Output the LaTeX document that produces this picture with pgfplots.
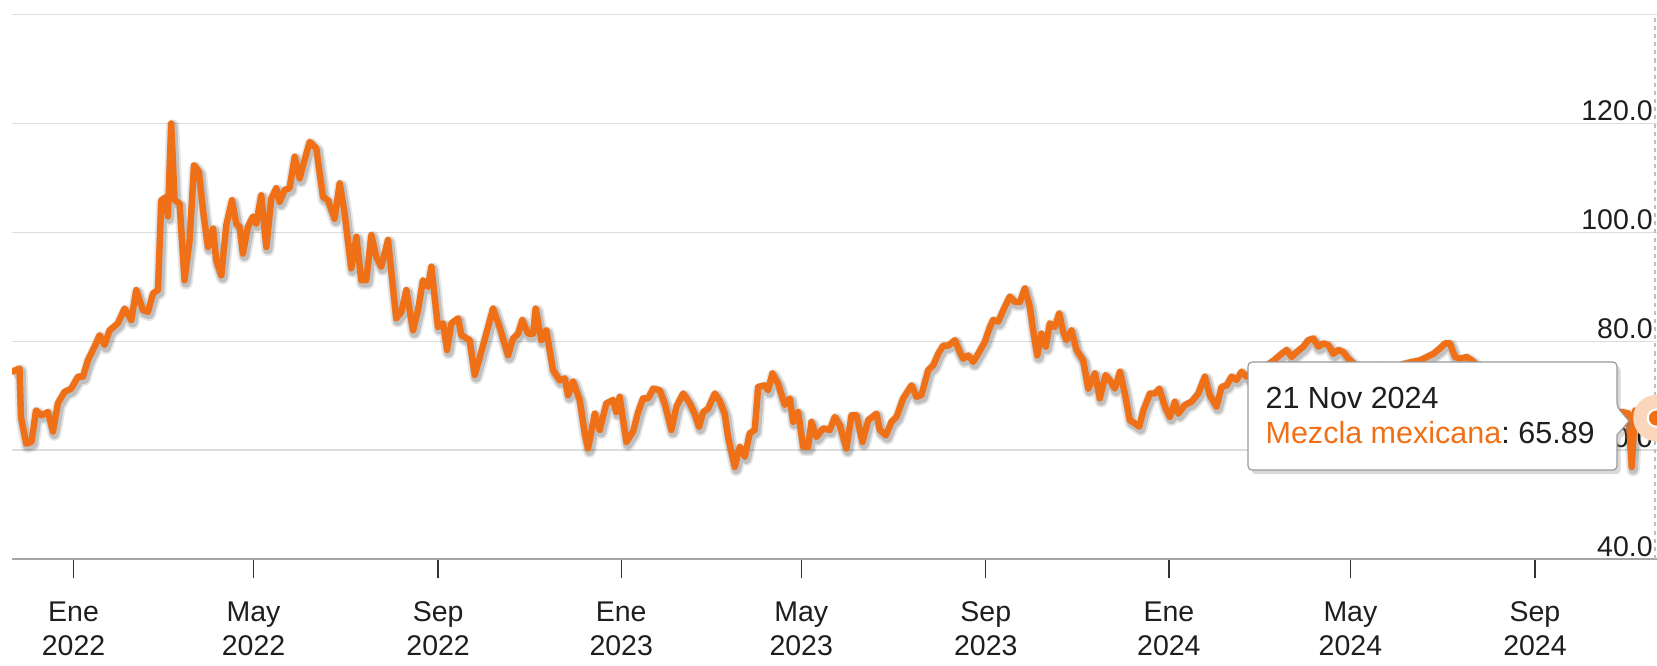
\documentclass[border=0pt]{standalone}
\usepackage{fontspec}
\setmainfont{Liberation Sans}
\usepackage{pgfplots}
\pgfplotsset{compat=1.18}
\usepackage{pgfplotstable}
\usetikzlibrary{shadows}

\definecolor{mezcla}{RGB}{240,112,24}
\definecolor{halo}{RGB}{249,214,188}
\definecolor{gridgray}{RGB}{221,221,221}
\definecolor{txt}{RGB}{30,30,30}

% x = days since 1 Jan 2022, v = USD per barrel
\pgfplotstableread{
d v
-41 74.4
-36 75.0
-35 66.1
-31.5 61.2
-28 61.5
-25 67.3
-21.5 66.4
-17 67.0
-13.7 63.4
-10.4 68.6
-6 70.7
-1.5 71.3
3 73.5
6.3 73.5
9.6 76.5
14 79.0
17.4 81.1
20.7 79.3
24 82.0
29.6 83.3
34 86.0
38.5 83.9
41.8 89.4
46.3 85.7
49.6 85.4
53 88.8
56.3 89.4
58.5 105.9
61.8 106.5
62.9 102.9
65.1 120.0
67.4 105.9
70.7 105.3
74 91.2
77.4 98.6
80.3 112.3
83.6 111.1
86.3 104.1
89.6 97.3
93 100.7
95.1 94.9
98.5 92.1
101.8 101.3
105.6 105.9
108.5 101.6
110.7 101.0
112.9 96.1
116.2 101.0
119.6 102.9
121.8 101.6
125.1 106.8
128.5 97.3
131.8 106.2
135.1 108.1
137.4 105.6
140.7 107.8
144 108.1
147.4 113.9
150.7 109.9
154 113.3
157.4 116.6
161.8 115.4
166.3 106.5
169.6 105.9
174 102.5
177.4 109.0
180.7 103.5
185.1 93.4
188.5 99.2
191.8 91.2
195.1 91.2
198.5 99.5
201.8 95.5
205.1 93.7
209.6 98.6
215.1 84.2
218.5 85.4
221.8 89.4
226.3 82.0
229.6 85.7
232.9 91.2
236.3 90.0
238.5 93.7
242.9 82.6
246.3 83.3
249 78.4
251.8 83.3
256.3 84.2
258.5 81.1
264 80.2
267.4 73.8
270.7 77.0
275.1 81.4
279.6 86.0
284 82.6
289.6 77.4
292.9 80.5
296.3 81.4
299.1 83.9
302.9 81.4
306.3 81.4
308 86.0
311.8 80.2
315.1 82.0
319.6 74.7
324 72.8
327.4 73.2
329.6 70.1
332.9 72.6
337.4 69.2
340.7 63.1
342.9 60.3
347.4 66.7
350.7 63.7
355.1 68.6
359.6 69.2
361.8 67.0
364 69.8
368.5 61.5
372.9 63.4
376.3 67.0
379.6 69.5
383 69.5
386.3 71.3
390.7 71.0
394 68.6
398.5 63.7
401.8 68.0
406.3 70.4
410.7 68.6
414 66.7
416.9 64.3
419.6 67.0
422.9 67.6
427.4 70.4
430.7 69.0
434 66.7
436.3 62.4
440.7 56.9
444 60.6
447.4 58.8
450.7 63.1
454 63.7
456.3 71.6
460.7 71.9
462.9 71.0
465.8 74.1
469.6 72.2
474 68.3
477.4 69.5
479.6 65.2
482.9 67.0
486.3 60.6
489.6 60.6
491.8 65.2
495.1 62.4
499.6 64.0
504 63.7
507.4 66.1
510.7 64.6
515.1 60.3
518.5 66.4
521.8 66.4
525.8 61.5
529.6 65.5
535.1 66.7
537.4 63.7
541.4 62.7
545.1 65.2
548.5 66.1
552.9 69.5
558.5 71.9
561.8 69.8
565.1 70.1
569.6 74.7
573 75.6
576.3 77.7
579.6 79.2
583 79.2
587.4 80.2
590.7 78.0
592.9 76.8
596.3 77.4
599.6 76.2
602.9 77.7
607.4 79.9
610.7 82.6
612.9 83.9
616.3 83.6
619.6 85.7
624 88.2
627.4 87.2
630.7 87.2
634 89.7
637.4 86.3
639.6 82.0
642.3 77.4
645.1 81.4
648 79.0
650.7 83.3
654 82.6
656.9 85.1
659.6 81.7
661.8 80.2
665.1 82.0
668.5 78.4
672.9 76.5
676.3 71.3
680.7 74.1
684 69.5
687.8 73.8
690.7 72.8
694 71.3
697.4 74.4
700.7 70.4
704 65.5
707.4 64.9
710.3 64.3
713 67.3
717.4 70.4
720.7 70.4
723.6 71.3
727.4 68.0
730.7 66.1
734 68.9
736.3 66.7
740.7 68.3
745.1 68.9
749.6 70.4
754 73.5
757.3 70.1
761.8 68.0
765.1 71.6
768.5 71.9
771.8 73.5
775.1 72.9
778.5 74.4
781.8 73.5
786 74.5
790 73.8
795 75.5
800 76.5
805.1 77.7
808.5 78.4
811.8 77.1
815.1 78.0
819.6 79.0
822.9 80.2
826.3 80.5
829.6 79.0
832.9 79.6
836.3 79.3
839.6 77.7
842.9 78.4
846.3 78.0
849.6 76.8
855 75.5
862 74.8
870 75.6
878 75.0
886 75.8
892 76.2
897.4 76.5
901.8 77.1
906.3 77.7
910.7 78.7
914 79.6
917.3 79.6
920.7 77.1
924 76.8
928.5 77.1
931.8 76.5
938 75.0
946 74.0
955 72.5
965 71.0
975 70.0
985 69.5
995 68.0
1005 67.5
1015 68.0
1025 66.5
1032 67.0
1036.3 66.7
1038.5 56.9
1040.7 67.3
1044 66.7
1049 65.5
1055 65.89
}\datos

\begin{document}
\begin{tikzpicture}
\path[use as bounding box] (0pt,0pt) rectangle (570.0pt,228.76pt);
\clip (0pt,0pt) rectangle (570.0pt,228.76pt);
\begin{axis}[
    at={(4.13pt,36.46pt)}, anchor=south west,
    scale only axis,
    width=565.7pt, height=187.3pt,
    xmin=-41, xmax=1055,
    ymin=40, ymax=140,
    axis x line*=bottom,
    axis y line*=right,
    x axis line style={-, draw=black!35, line width=0.45pt},
    y axis line style={draw=none},
    xtick={0,120,243,365,485,608,730,851,974},
    xticklabels={{Ene\\2022},{May\\2022},{Sep\\2022},{Ene\\2023},{May\\2023},{Sep\\2023},{Ene\\2024},{May\\2024},{Sep\\2024}},
    ytick={40,60,80,100,120,140},
    yticklabels={40.0,60.0,80.0,100.0,120.0,{}},
    tick align=outside,
    xtick style={/pgfplots/major tick length=6.5pt, draw=black!80, line width=0.45pt},
    ytick style={/pgfplots/major tick length=0pt, draw=none},
    tick label style={font=\fontsize{9.8}{11.7}\selectfont, text=txt},
    xticklabel style={align=center, anchor=north, inner sep=0pt, yshift=-10.2pt},
    yticklabel style={anchor=base east, inner sep=0pt, xshift=-5.4pt, yshift=1pt},
    ymajorgrids,
    grid style={gridgray, line width=0.45pt},
]
\addplot[draw=black, opacity=0.10, line width=4.6pt, line join=round,
    transform canvas={xshift=0.5pt,yshift=-0.9pt}] table[x=d,y=v]{\datos};
\addplot[draw=black, opacity=0.16, line width=3.3pt, line join=round,
    transform canvas={xshift=0.5pt,yshift=-0.9pt}] table[x=d,y=v]{\datos};
\addplot[draw=mezcla, line width=2.2pt, line join=round, line cap=round]
    table[x=d,y=v]{\datos};
\addplot[draw=black!25, line width=0.4pt, dash pattern=on 1.4pt off 1.4pt]
    coordinates {(1054,40) (1054,140)};
\addplot[color=halo, only marks, mark=*, mark size=7.8pt,
    mark options={solid, fill=halo, draw=halo}]
    coordinates {(1055,65.89)};
\addplot[color=mezcla, only marks, mark=*, mark size=3pt,
    mark options={solid, fill=mezcla, draw=white, line width=0.7pt}]
    coordinates {(1055,65.89)};
\end{axis}

% tooltip, in reference pixels
\begin{scope}[x=0.344pt,y=0.344pt]
\draw[draw=black!40, line width=0.4pt, fill=white, rounded corners=1.4pt,
    drop shadow={shadow xshift=1.2pt, shadow yshift=-1.4pt, opacity=0.3}]
    (1248,195) -- (1248,303) -- (1617,303) -- (1617,258)
    [sharp corners] -- (1629,244) -- (1617,230)
    [rounded corners=1.4pt] -- (1617,195) -- cycle;
\node[anchor=base west, inner sep=0pt, font=\fontsize{10.5}{12}\selectfont, text=txt]
    at (1265,256.5) {21 Nov 2024};
\node[anchor=base west, inner sep=0pt, font=\fontsize{10.5}{12}\selectfont, text=txt]
    at (1265,221.5) {\textcolor{mezcla}{Mezcla mexicana}:\ 65.89};
\end{scope}
\end{tikzpicture}
\end{document}
